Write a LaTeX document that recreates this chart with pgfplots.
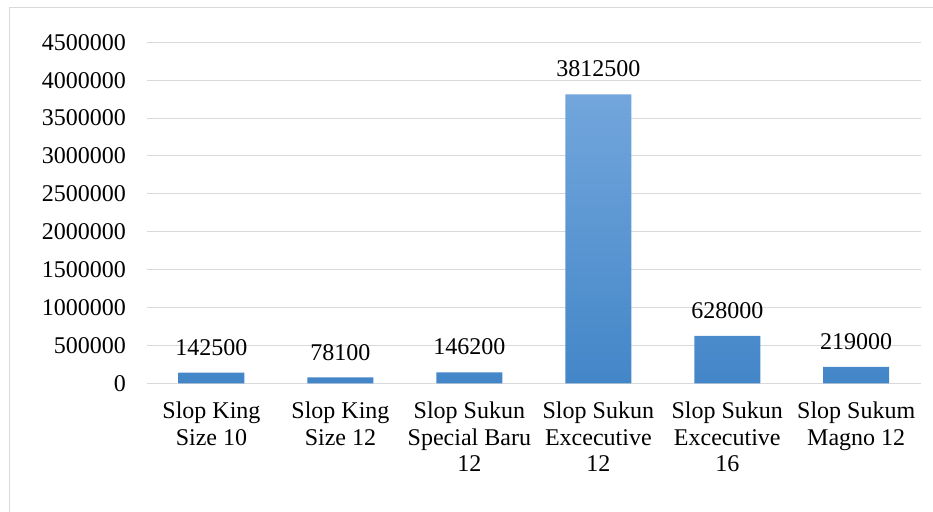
\documentclass[border=0pt]{standalone}
\usepackage{fontspec}
\setmainfont{Liberation Serif}
\usepackage{pgfplots}
\pgfplotsset{compat=1.18}
\definecolor{gridgray}{HTML}{D9D9D9}
\definecolor{bartop}{HTML}{72A6DC}
\definecolor{barbot}{HTML}{4386C8}
\begin{document}
\begin{tikzpicture}[x=1bp,y=1bp]
\useasboundingbox (0,0) rectangle (933,512);
\draw[gridgray, line width=1bp] (9.3,0) -- (9.3,504) -- (933,504);
\begin{axis}[
  at={(147bp,128.6bp)}, anchor=south west,
  scale only axis, width=773.7bp, height=341.1bp,
  xmin=-0.5, xmax=5.5, ymin=0, ymax=4500000,
  axis lines=none,
  ymajorgrids, grid style={gridgray, line width=1bp},
  ytick={0,500000,...,4500000},
  xtick={0,1,2,3,4,5},
  xticklabels={{Slop King\\Size 10},{Slop King\\Size 12},{Slop Sukun\\Special Baru\\12},{Slop Sukun\\Excecutive\\12},{Slop Sukun\\Excecutive\\16},{Slop Sukum\\Magno 12}},
  major tick length=0pt,
  scaled y ticks=false,
  /pgf/number format/assume math mode=true,
  /pgf/number format/fixed, /pgf/number format/1000 sep={},
  tick label style={font=\fontsize{24bp}{26.5bp}\selectfont, inner sep=0pt},
  yticklabel style={anchor=east, xshift=-21bp},
  xticklabel style={anchor=north, align=center, yshift=-18.6bp},
  hide x axis=false, hide y axis=false,
  x axis line style={draw=none}, y axis line style={draw=none},
  clip=false,
  nodes near coords,
  every node near coord/.append style={font=\fontsize{24bp}{26.5bp}\selectfont, inner sep=0pt, anchor=south, yshift=17bp, text=black},
]
\addplot[ybar, bar width=66bp, draw=none, top color=bartop, bottom color=barbot]
  coordinates {(0,142500) (1,78100) (2,146200) (3,3812500) (4,628000) (5,219000)};
\end{axis}
\end{tikzpicture}
\end{document}
